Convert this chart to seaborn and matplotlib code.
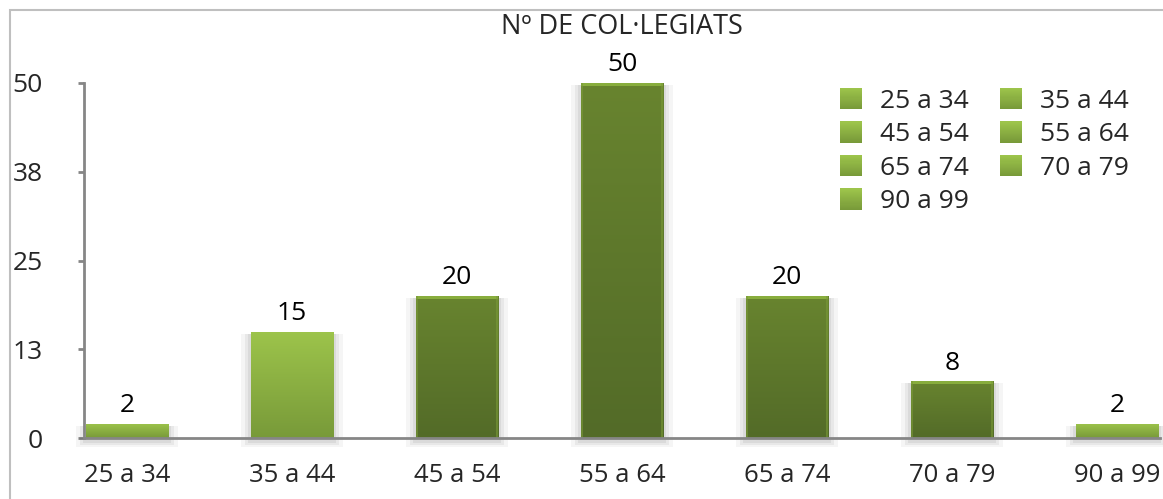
import numpy as np
import matplotlib
matplotlib.use("Agg")
import matplotlib.pyplot as plt
import matplotlib.patches as mpatches
from matplotlib.colors import LinearSegmentedColormap, to_rgb
from matplotlib.legend_handler import HandlerBase
import seaborn as sns
import pandas as pd

# ---- data ----
categories = ["25 a 34", "35 a 44", "45 a 54", "55 a 64", "65 a 74", "70 a 79", "90 a 99"]
values = [2, 15, 20, 50, 20, 8, 2]
shade = ["light", "light", "dark", "dark", "dark", "dark", "light"]
ytick_values = [0, 12.5, 25, 37.5, 50]
ytick_labels = ["0", "13", "25", "38", "50"]
title = "Nº DE COL·LEGIATS"

sns.set_theme(style="white")
plt.rcParams['font.family'] = ['Open Sans', 'DejaVu Sans']

light_top, light_bot = "#9dc44b", "#789a39"
dark_top, dark_bot = "#68842f", "#536b28"
base_col = {"light": "#8db242", "dark": "#5f7a2c"}

df = pd.DataFrame({"cat": categories, "val": values})
fig = plt.figure(figsize=(11.63, 4.99), dpi=100)
ax = fig.add_axes([84/1163, 1-438/499, (1160-84)/1163, (438-83)/499])

pal = {c: base_col[s] for c, s in zip(categories, shade)}
sns.barplot(data=df, x="cat", y="val", hue="cat", palette=pal, legend=False,
            width=0.5, ax=ax, saturation=1)

ax.set_xlim(-0.26, 6.26)
ax.set_ylim(0, 50)

# gradient fills on each bar
for p, s in zip(ax.patches, shade):
    x0, y0 = p.get_x(), p.get_y()
    w, h = p.get_width(), p.get_height()
    if s == "light":
        cm = LinearSegmentedColormap.from_list("g", [light_bot, light_top])
    else:
        cm = LinearSegmentedColormap.from_list("g", [dark_bot, dark_top])
    grad = np.linspace(0, 1, 256).reshape(-1, 1)
    # soft shadow
    for k, a in [(0.06, 0.04), (0.035, 0.05), (0.015, 0.06)]:
        sh = mpatches.Rectangle((x0 - k, y0 - 0.6 - k * 10), w + 2 * k, h + 0.3 + k * 10,
                                facecolor="#000000", alpha=a, edgecolor="none",
                                zorder=1, clip_on=False)
        ax.add_patch(sh)
    im = ax.imshow(grad, extent=[x0, x0 + w, y0, y0 + h], origin="lower",
                   cmap=cm, aspect="auto", zorder=2, vmin=0, vmax=1)
    im.set_clip_path(p)
    if s == "dark":
        ax.add_patch(mpatches.Rectangle((x0, y0 + h - 0.45), w, 0.45,
                                        facecolor="#88ad3d", edgecolor="none", zorder=2.5))
        for xx in (x0, x0 + w - 0.012):
            ax.add_patch(mpatches.Rectangle((xx, y0), 0.012, h,
                                            facecolor="#7a9a38", alpha=0.6,
                                            edgecolor="none", zorder=2.5))
    p.set_facecolor("none")
    p.set_edgecolor("none")
ax.set_xlim(-0.26, 6.26)
ax.set_ylim(0, 50)

# data labels
for cont in ax.containers:
    ax.bar_label(cont, labels=[str(int(v.get_height())) for v in cont],
                 padding=4, fontsize=19, color="black")

# axes styling
for sp in ["top", "right"]:
    ax.spines[sp].set_visible(False)
for sp in ["left", "bottom"]:
    ax.spines[sp].set_color("#868686")
    ax.spines[sp].set_linewidth(2)
    ax.spines[sp].set_zorder(3)
ax.set_yticks(ytick_values)
ax.set_yticklabels(ytick_labels)
ax.tick_params(axis="y", direction="out", length=4.5, width=2, color="#868686",
               labelsize=19, pad=25, left=True)
ax.tick_params(axis="x", length=0, labelsize=18.5, pad=18)
ax.set_xlabel("")
ax.set_ylabel("")
ax.grid(False)

fig.text(622/1163, 1-27/499, title, fontsize=19.5, ha="center", va="center")


class GradHandler(HandlerBase):
    def create_artists(self, legend, orig_handle, xdescent, ydescent, width,
                       height, fontsize, trans):
        n = 20
        c0, c1 = np.array(to_rgb(light_bot)), np.array(to_rgb(light_top))
        arts = []
        for i in range(n):
            f = i / (n - 1)
            r = mpatches.Rectangle((-xdescent, -ydescent + height * i / n), width,
                                   height / n + 0.3, facecolor=c0 + (c1 - c0) * f,
                                   edgecolor="none", transform=trans)
            arts.append(r)
        return arts


# legend in row-major order
handles = [mpatches.Patch(facecolor="#8bb041", edgecolor="none") for _ in categories]
order = [0, 2, 4, 6, 1, 3, 5]
leg = fig.legend([handles[i] for i in order], [categories[i] for i in order],
                 ncol=2, loc="upper left", bbox_to_anchor=(840/1163, 1-88/499),
                 frameon=False, fontsize=19, handlelength=0.85, handleheight=0.85,
                 handletextpad=0.68, columnspacing=1.15, labelspacing=0.3,
                 borderpad=0, borderaxespad=0,
                 handler_map={mpatches.Patch: GradHandler()})

# outer frame
fig.patches.append(mpatches.Rectangle((10/1163, -0.1), 1.2, 1 - 10/499 + 0.1,
                                      transform=fig.transFigure, fill=False,
                                      edgecolor="#bfbfbf", linewidth=1.5))

fig.savefig("out.png", dpi=100)
